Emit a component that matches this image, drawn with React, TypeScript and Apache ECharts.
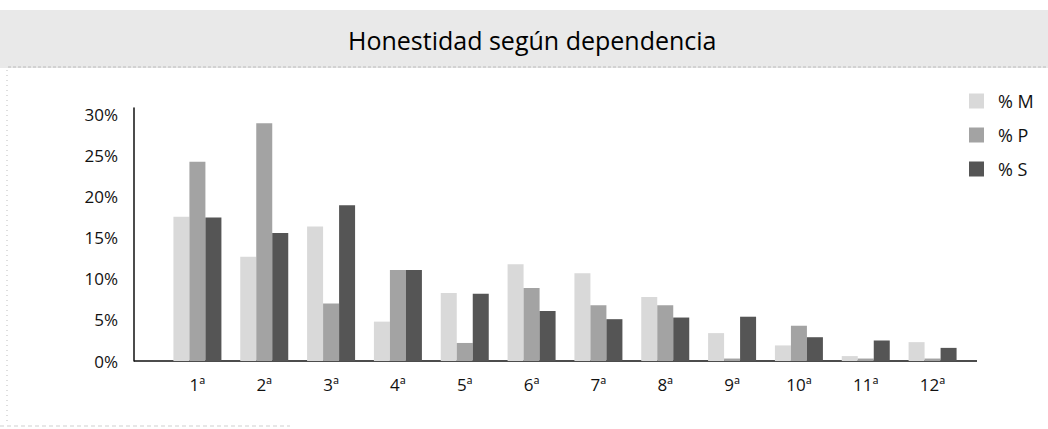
import React, { useEffect, useRef } from "react";
import * as echarts from "echarts";

const categories = ["1ª", "2ª", "3ª", "4ª", "5ª", "6ª", "7ª", "8ª", "9ª", "10ª", "11ª", "12ª"];
const seriesNames = ["% M", "% P", "% S"];
const valuesM = [17.6, 12.7, 16.4, 4.8, 8.3, 11.8, 10.7, 7.8, 3.4, 1.9, 0.6, 2.3];
const valuesP = [24.3, 29.0, 7.0, 11.1, 2.2, 8.9, 6.8, 6.8, 0.3, 4.3, 0.3, 0.3];
const valuesS = [17.5, 15.6, 19.0, 11.1, 8.2, 6.1, 5.1, 5.3, 5.4, 2.9, 2.5, 1.6];
const titleText = "Honestidad según dependencia";

const FONT = "'Open Sans', 'Noto Sans', sans-serif";
const seriesColors = ["#d9d9d9", "#a3a3a3", "#555555"];

export default function App() {
  const ref = useRef<HTMLDivElement>(null);
  useEffect(() => {
    if (!ref.current) return;
    const chart = echarts.init(ref.current, null, { renderer: "svg" });
    const data = [valuesM, valuesP, valuesS];
    chart.setOption({
      animation: false,
      backgroundColor: "#ffffff",
      textStyle: { fontFamily: FONT, color: "#111" },
      title: {
        text: titleText,
        left: 348,
        top: 27,
        padding: 0,
        textStyle: { fontFamily: FONT, fontSize: 25, fontWeight: 500, color: "#000" },
      },
      legend: {
        orient: "vertical",
        left: 969,
        top: 92,
        padding: 0,
        itemWidth: 15,
        itemHeight: 15,
        itemGap: 16,
        icon: "rect",
        data: seriesNames,
        textStyle: { fontFamily: FONT, fontSize: 18, color: "#111", padding: [0, 0, 0, 9] },
      },
      grid: { left: 164, top: 108, width: 802, height: 253 },
      xAxis: {
        type: "category",
        data: categories,
        axisLine: { show: false },
        axisTick: { show: false },
        axisLabel: { fontFamily: FONT, fontSize: 17, color: "#111", margin: 15 },
      },
      yAxis: {
        type: "value",
        min: 0,
        max: 30.85,
        interval: 5,
        offset: 30,
        splitLine: { show: false },
        axisTick: { show: false },
        axisLine: { show: true, lineStyle: { color: "#111", width: 1.5 } },
        axisLabel: {
          fontFamily: FONT,
          fontSize: 17,
          color: "#111",
          margin: 16,
          formatter: (v: number) => (Math.abs(v % 5) < 1e-9 ? v + "%" : ""),
        },
      },
      series: seriesNames.map((name, i) => ({
        name,
        type: "bar",
        data: data[i],
        barWidth: 16,
        barGap: "0%",
        itemStyle: { color: seriesColors[i] },
      })),
      graphic: [
        {
          type: "rect",
          z: -10,
          shape: { x: 0, y: 10, width: 1048, height: 58 },
          style: { fill: "#e9e9e9" },
        },
        {
          type: "line",
          z: -5,
          shape: { x1: 8, y1: 67, x2: 1048, y2: 67 },
          style: { stroke: "#bbbbbb", lineWidth: 1, lineDash: [3, 2] },
        },
        {
          type: "line",
          shape: { x1: 134, y1: 361, x2: 977, y2: 361 },
          style: { stroke: "#111", lineWidth: 1.5 },
        },
        {
          type: "line",
          shape: { x1: 7, y1: 70, x2: 7, y2: 422 },
          style: { stroke: "#bdbdbd", lineWidth: 1, lineDash: [1, 4] },
        },
        {
          type: "line",
          shape: { x1: 0, y1: 426, x2: 290, y2: 426 },
          style: { stroke: "#cfcfcf", lineWidth: 1, lineDash: [4, 3] },
        },
      ],
    });
    return () => chart.dispose();
  }, []);
  return (
    <div
      ref={ref}
      style={{ position: "fixed", left: 0, top: 0, width: 1048, height: 429 }}
    />
  );
}
